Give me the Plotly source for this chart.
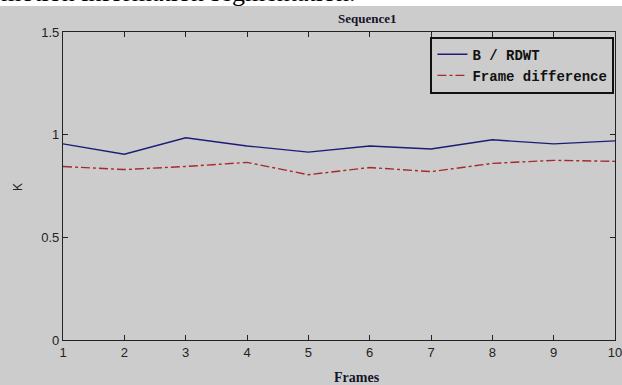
import plotly.graph_objects as go

# Frame indices and detection rate K for the two methods
frames = [1, 2, 3, 4, 5, 6, 7, 8, 9, 10]
k_rdwt = [0.955, 0.905, 0.985, 0.945, 0.915, 0.945, 0.930, 0.975, 0.955, 0.970]
k_frame_diff = [0.845, 0.830, 0.845, 0.865, 0.805, 0.840, 0.820, 0.860, 0.875, 0.870]

y_ticks = [0, 0.5, 1, 1.5]
y_tick_labels = ["0", "0.5", "1", "1.5"]
x_ticks = frames

GRAY = "#cccccc"
W, H = 622, 385
L, R, T, B = 63, 7, 32, 45
plot_h = H - T - B
plot_w = W - L - R


def px_x(px):
    return (px - L) / plot_w


def px_y(py):
    return (H - B - py) / plot_h


fig = go.Figure()
fig.add_trace(go.Scatter(
    x=frames, y=k_rdwt, mode="lines", name="B / RDWT",
    line=dict(color="#1c1c78", width=1.4),
))
fig.add_trace(go.Scatter(
    x=frames, y=k_frame_diff, mode="lines", name="Frame difference",
    line=dict(color="#a52a2a", width=1.4, dash="dashdot"),
))

axis_common = dict(
    showgrid=False, zeroline=False, showline=True, linecolor="#222222",
    linewidth=1.2, mirror="ticks", ticks="inside", ticklen=5,
    tickcolor="#222222", automargin=False, ticklabeloverflow="allow",
    tickfont=dict(family="Liberation Sans", size=13, color="#222222"),
)
fig.update_xaxes(range=[1, 10], tickvals=x_ticks, **axis_common)
fig.update_yaxes(range=[0, 1.5], tickvals=y_ticks, ticktext=y_tick_labels, **axis_common)

fig.update_layout(
    width=W, height=H,
    margin=dict(l=L, r=R, t=T, b=B, pad=0, autoexpand=False),
    paper_bgcolor=GRAY, plot_bgcolor=GRAY,
    showlegend=True,
    legend=dict(
        x=0.999, y=0.985, xanchor="right", yanchor="top",
        bgcolor=GRAY, bordercolor="#111111", borderwidth=2,
        font=dict(family="Liberation Mono", size=14, color="#111111", weight="bold"),
        tracegroupgap=0, itemwidth=30,
    ),
    shapes=[
        # white page strip above the figure
        dict(type="rect", xref="paper", yref="paper",
             x0=px_x(-5), x1=px_x(W + 5), y0=px_y(6), y1=px_y(-20),
             fillcolor="white", line=dict(width=0), layer="below"),
    ],
    annotations=[
        dict(text="motion information segmentation.", xref="paper", yref="paper",
             x=px_x(-1), y=px_y(9), xanchor="left", yanchor="bottom",
             showarrow=False,
             font=dict(family="Liberation Serif", size=26, color="black")),
        dict(text="<b>Sequence1</b>", xref="paper", yref="paper",
             x=px_x(367), y=px_y(18), xanchor="center", yanchor="middle",
             showarrow=False,
             font=dict(family="Liberation Serif", size=13, color="#14142a")),
        dict(text="<b>Frames</b>", xref="paper", yref="paper",
             x=px_x(357), y=px_y(377), xanchor="center", yanchor="middle",
             showarrow=False,
             font=dict(family="Liberation Serif", size=14, color="#14142a")),
        dict(text="K", xref="paper", yref="paper",
             x=px_x(18), y=px_y(187), xanchor="center", yanchor="middle",
             showarrow=False, textangle=-90,
             font=dict(family="Liberation Sans", size=12, color="#222222")),
    ],
)

fig.write_html("out.html")
